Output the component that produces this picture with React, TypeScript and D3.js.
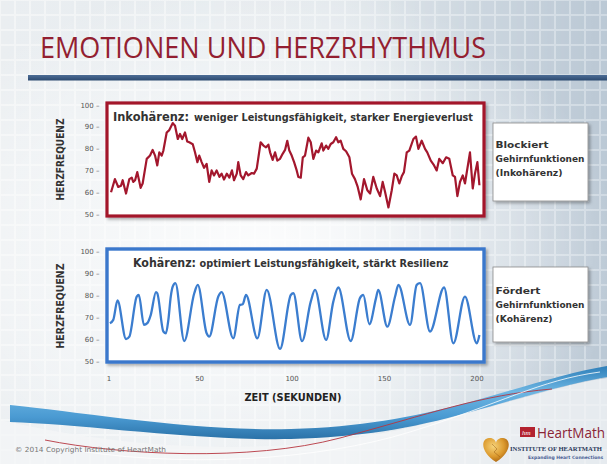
import React from 'react';
import * as d3 from 'd3';

const slideTitle = 'EMOTIONEN UND HERZRHYTHMUS';
const yAxisTitle = 'HERZFREQUENZ';
const xAxisTitle = 'ZEIT (SEKUNDEN)';
const yTicks = [50, 60, 70, 80, 90, 100];
const xTicks = [1, 50, 100, 150, 200];

// [Sekunde, Herzfrequenz]
const incoherent: [number, number][] = [
  [2.1, 60], [4.2, 66], [6.0, 62.4], [7.5, 63], [8.4, 65.5], [10.2, 59.4], [12.0, 66], [13.3, 66.7],
  [14.1, 64.7], [15.1, 65.5], [16.3, 69.2], [18.1, 62], [19.2, 64], [21.4, 75.3], [23.2, 76.8], [24.6, 79.4],
  [25.9, 76.8], [27.1, 72.3], [28.2, 78.3], [29.5, 76.8], [30.4, 79.1], [32.2, 87.4], [33.6, 88.5], [35.5, 91.7],
  [36.7, 90.5], [38.2, 84.4], [39.4, 86.7], [40.6, 84.4], [42.1, 87.4], [43.3, 83.3], [44.4, 82.9], [46.3, 82],
  [47.5, 78.3], [48.8, 73.8], [49.8, 76.8], [51.1, 73.8], [52.4, 71.2], [53.8, 73], [55.2, 64.7], [56.5, 70],
  [57.8, 67.7], [59.2, 70], [60.7, 67], [61.9, 68.5], [63.2, 65.8], [64.7, 68.5], [66.1, 66.7], [67.5, 70],
  [68.6, 65.5], [70.1, 68.5], [70.9, 73.8], [72.2, 67.7], [73.6, 66], [75.1, 69.2], [76.3, 67.7], [78.2, 68.8],
  [79.4, 68.5], [80.9, 70.8], [83.0, 82.9], [84.5, 81.4], [85.9, 80.6], [87.2, 81.8], [88.1, 78.3], [89.5, 74.8],
  [90.8, 78.3], [92.0, 74.5], [93.5, 75.3], [94.9, 77.6], [96.2, 79.4], [97.4, 83.6], [98.5, 79.1], [99.8, 76.8],
  [101.1, 73.8], [102.5, 70], [103.4, 67], [104.7, 66.7], [105.8, 76], [107.0, 76.8], [108.8, 85], [110.1, 82.9],
  [111.5, 75.3], [113.0, 79.1], [114.2, 78.3], [116.0, 82.4], [116.9, 79.1], [118.4, 81.4], [119.6, 79.9], [120.9, 82.1],
  [122.3, 82.9], [123.8, 85.2], [125.0, 82.9], [126.3, 83.6], [127.7, 79.9], [129.2, 78.8], [131.0, 76], [132.4, 68.5],
  [134.0, 66], [135.5, 62.4], [137.1, 56.7], [138.9, 66], [140.7, 60.9], [142.2, 59.4], [143.9, 67], [145.8, 61.7],
  [147.6, 58.2], [149.0, 64.7], [150.3, 60.1], [152.1, 53], [153.9, 60.9], [155.3, 68.5], [156.6, 67.7], [158.0, 64],
  [159.3, 67.3], [160.5, 69.2], [162.0, 78.3], [163.4, 79.1], [165.6, 84.4], [167.0, 85.5], [168.3, 79.9], [170.1, 83.6],
  [171.9, 79.9], [173.1, 78.3], [175.0, 74.5], [176.8, 72.3], [178.2, 70], [179.6, 75.3], [181.5, 73.3], [183.3, 76],
  [185.0, 75.3], [186.9, 67.7], [188.1, 67], [189.4, 58.2], [190.8, 64.7], [192.3, 67.7], [193.5, 64], [196.2, 78.3],
  [197.7, 61.7], [198.9, 68.5], [200.2, 73.8], [201.3, 63.2],
];

const coherent: [number, number][] = [
  [1.5, 67.2], [3.3, 68.7], [5.6, 77.5], [10.2, 60], [12.0, 61.1], [16.0, 79.3], [17.1, 80], [19.9, 66.4],
  [21.7, 67.2], [23.6, 71], [26.4, 81.3], [27.1, 80.8], [30.4, 63.4], [31.8, 62.6], [33.1, 68.7], [34.4, 79.3],
  [35.5, 83.9], [36.9, 85.4], [41.7, 59.1], [47.1, 80.8], [49.0, 84.6], [53.8, 62.6], [55.2, 61.1], [60.1, 79.3],
  [61.9, 81.3], [68.2, 60.3], [71.8, 75.5], [73.3, 75.8], [75.1, 80], [81.2, 60.3], [86.3, 82.3], [93.5, 55.5],
  [99.3, 80], [100.7, 80.8], [105.4, 59], [110.1, 77], [112.4, 82.3], [118.4, 59.6], [122.3, 77], [125.0, 83.4],
  [131.7, 59.1], [136.7, 78.6], [138.5, 80], [141.8, 66.7], [145.4, 78.6], [146.6, 82.3], [151.5, 65.6], [155.7, 79.3],
  [157.5, 84.6], [163.8, 66.4], [167.4, 84.6], [169.2, 85.4], [174.6, 63.4], [182.2, 83.4], [187.2, 58], [193.5, 79.3],
  [199.9, 58], [201.3, 61.8],
];

const topHead = 'Inkohärenz:';
const topSub = 'weniger Leistungsfähigkeit, starker Energieverlust';
const botHead = 'Kohärenz:';
const botSub = 'optimiert Leistungsfähigkeit, stärkt Resilienz';
const box1Lines = ['Blockiert', 'Gehirnfunktionen', '(Inkohärenz)'];
const box2Lines = ['Fördert', 'Gehirnfunktionen', '(Kohärenz)'];
const copyright = '© 2014 Copyright Institute of HeartMath';

const FONT = '"DejaVu Sans", sans-serif';

export default function App() {
  const x = d3.scaleLinear().domain([1, 200]).range([109, 477]);
  const yTop = d3.scaleLinear().domain([50, 100]).range([214, 105]);
  const yBot = d3.scaleLinear().domain([50, 100]).range([361, 251]);
  const lineTop = d3.line<[number, number]>().x(d => x(d[0])).y(d => yTop(d[1])).curve(d3.curveLinear);
  const lineBot = d3.line<[number, number]>().x(d => x(d[0])).y(d => yBot(d[1])).curve(d3.curveMonotoneX);

  const box1W = [53, 89, 67];
  const box2W = [45, 89, 57];

  return (
    <svg width={607} height={464} viewBox="0 0 607 464" style={{ position: 'absolute', left: 0, top: 0 }}>
      <defs>
        <linearGradient id="bg" x1="0" y1="0" x2="1" y2="0">
          <stop offset="0" stopColor="#f3f5f6" />
          <stop offset="0.55" stopColor="#eef2f4" />
          <stop offset="1" stopColor="#cfd9e2" />
        </linearGradient>
        <radialGradient id="glow" cx="0.42" cy="0.55" r="0.6">
          <stop offset="0" stopColor="#ffffff" stopOpacity="0.9" />
          <stop offset="0.7" stopColor="#ffffff" stopOpacity="0.35" />
          <stop offset="1" stopColor="#ffffff" stopOpacity="0" />
        </radialGradient>
        <pattern id="tiles" width="15" height="15" patternUnits="userSpaceOnUse">
          <rect x="1" y="1" width="13" height="13" fill="#9fb1c2" />
        </pattern>
        <linearGradient id="tileFade" x1="0" y1="0" x2="1" y2="0">
          <stop offset="0" stopColor="#fff" stopOpacity="0.1" />
          <stop offset="0.6" stopColor="#fff" stopOpacity="0.14" />
          <stop offset="1" stopColor="#fff" stopOpacity="0.42" />
        </linearGradient>
        <mask id="tileMask">
          <rect x="0" y="0" width="607" height="464" fill="url(#tileFade)" />
        </mask>
        <linearGradient id="bar" x1="0" y1="0" x2="0" y2="1">
          <stop offset="0" stopColor="#4d6d96" />
          <stop offset="1" stopColor="#2c4a70" />
        </linearGradient>
        <linearGradient id="swoosh" x1="0" y1="0" x2="0" y2="1">
          <stop offset="0" stopColor="#2f7fb9" />
          <stop offset="0.35" stopColor="#6db6e3" />
          <stop offset="0.7" stopColor="#4a9ad2" />
          <stop offset="1" stopColor="#2b72a8" />
        </linearGradient>
        <radialGradient id="heart" cx="0.4" cy="0.35" r="0.7">
          <stop offset="0" stopColor="#f6d37a" />
          <stop offset="0.6" stopColor="#dc9a2e" />
          <stop offset="1" stopColor="#a8620f" />
        </radialGradient>
        <filter id="shadow" x="-10%" y="-10%" width="130%" height="130%">
          <feDropShadow dx="2" dy="2" stdDeviation="1.8" floodColor="#000" floodOpacity="0.3" />
        </filter>
      </defs>

      {/* background */}
      <rect x={0} y={0} width={607} height={464} fill="url(#bg)" />
      <rect x={0} y={0} width={607} height={464} fill="url(#tiles)" mask="url(#tileMask)" />
      <rect x={0} y={0} width={607} height={464} fill="url(#glow)" />

      {/* title */}
      <text x={40} y={58} fontFamily='"Open Sans", sans-serif' fontSize={29} fill="#931f31"
        textLength={446} lengthAdjust="spacingAndGlyphs">{slideTitle}</text>
      <rect x={28} y={75} width={579} height={5.5} fill="url(#bar)" />

      {/* top chart */}
      <rect x={107} y={103} width={377} height={113} fill="#fff" stroke="#a3182c" strokeWidth={3.2} filter="url(#shadow)" />
      <path d={lineTop(incoherent) || ''} fill="none" stroke="#a3172d" strokeWidth={2.2} strokeLinejoin="round" />
      <text x={113} y={120.5} fontFamily={FONT} fontWeight="bold" fontSize={11.5} fill="#333"
        textLength={76} lengthAdjust="spacingAndGlyphs">{topHead}</text>
      <text x={194} y={120.5} fontFamily={FONT} fontWeight="bold" fontSize={9.6} fill="#333"
        textLength={279} lengthAdjust="spacingAndGlyphs">{topSub}</text>
      {yTicks.map(t => (
        <text key={'yt' + t} x={99.5} y={yTop(t) + 2.5} textAnchor="end" fontFamily={FONT} fontSize={7}
          fill="#555">{t + ' –'}</text>
      ))}
      <text transform={`translate(64,${yTop(75)}) rotate(-90)`} textAnchor="middle" fontFamily={FONT}
        fontWeight="bold" fontSize={10} fill="#333" textLength={82} lengthAdjust="spacingAndGlyphs">{yAxisTitle}</text>

      {/* bottom chart */}
      <rect x={107} y={249} width={377} height={113} fill="#fff" stroke="#3a78cc" strokeWidth={3.4} filter="url(#shadow)" />
      <path d={lineBot(coherent) || ''} fill="none" stroke="#3b7dcf" strokeWidth={2.3} strokeLinejoin="round" />
      <text x={133} y={267} fontFamily={FONT} fontWeight="bold" fontSize={11.5} fill="#333"
        textLength={63} lengthAdjust="spacingAndGlyphs">{botHead}</text>
      <text x={199.5} y={267} fontFamily={FONT} fontWeight="bold" fontSize={9.6} fill="#333"
        textLength={249} lengthAdjust="spacingAndGlyphs">{botSub}</text>
      {yTicks.map(t => (
        <text key={'yb' + t} x={99.5} y={yBot(t) + 2.5} textAnchor="end" fontFamily={FONT} fontSize={7}
          fill="#555">{t + ' –'}</text>
      ))}
      <text transform={`translate(64,${yBot(75)}) rotate(-90)`} textAnchor="middle" fontFamily={FONT}
        fontWeight="bold" fontSize={10} fill="#333" textLength={85} lengthAdjust="spacingAndGlyphs">{yAxisTitle}</text>

      {/* x axis */}
      {xTicks.map(t => (
        <text key={'xt' + t} x={x(t)} y={381} textAnchor="middle" fontFamily={FONT} fontSize={7} fill="#555">{t}</text>
      ))}

      {/* swoosh */}
      <path d="M0,420 C150,455 300,455 420,425 S560,385 607,378 L607,464 L0,464 Z" fill="#f4f6f7" opacity={0.75} />
      <path d="M10,405 C80,412 200,432 291,429 C360,427 410,418 470,402 C520,388 570,372 607,366 L607,377 C570,383 520,398 470,412 C410,429 360,437 291,439 C200,441 80,424 10,422 Z"
        fill="url(#swoosh)" />
      <path d="M45,440 C120,455 250,462 340,438 S480,395 552,389" fill="none" stroke="#b5353f" strokeWidth={0.9} />
      <path d="M55,447 C180,470 320,460 410,432 S540,380 600,372" fill="none" stroke="#ffffff" strokeWidth={1} opacity={0.8} />

      <text x={293} y={401} textAnchor="middle" fontFamily={FONT} fontWeight="bold" fontSize={10.5} fill="#222"
        textLength={97} lengthAdjust="spacingAndGlyphs">{xAxisTitle}</text>

      {/* side boxes */}
      <rect x={493} y={123} width={95} height={78} fill="#fff" stroke="#8a8a8a" strokeWidth={0.8} filter="url(#shadow)" />
      {box1Lines.map((s, i) => (
        <text key={'b1' + i} x={495.5} y={147.5 + i * 14} fontFamily={FONT} fontWeight="bold" fontSize={9} fill="#333"
          textLength={box1W[i]} lengthAdjust="spacingAndGlyphs">{s}</text>
      ))}
      <rect x={493} y={267} width={95} height={75} fill="#fff" stroke="#8a8a8a" strokeWidth={0.8} filter="url(#shadow)" />
      {box2Lines.map((s, i) => (
        <text key={'b2' + i} x={495.5} y={294 + i * 13.8} fontFamily={FONT} fontWeight="bold" fontSize={9} fill="#333"
          textLength={box2W[i]} lengthAdjust="spacingAndGlyphs">{s}</text>
      ))}

      {/* footer */}
      <text x={15} y={452} fontFamily={FONT} fontSize={7} fill="#777" textLength={151} lengthAdjust="spacingAndGlyphs">{copyright}</text>
      <rect x={520} y={427} width={15} height={10} fill="#b3222f" />
      <text x={522} y={435} fontFamily="serif" fontStyle="italic" fontSize={7} fill="#fff">hm</text>
      <text x={537} y={437.5} fontFamily='"Open Sans", sans-serif' fontSize={14} fill="#8a2436"
        textLength={68} lengthAdjust="spacingAndGlyphs">HeartMath</text>
      <path d="M496,462 C481,453 480,439 489,438 C493,437.5 495.5,440 496,443 C496.5,440 499,437.5 503,438 C512,439 511,453 496,462 Z"
        fill="url(#heart)" />
      <path d="M492,444 L497,449 L494,452 L500,457" fill="none" stroke="#8a4d0c" strokeWidth={0.7} opacity={0.6} />
      <text x={510} y={451} fontFamily='"Liberation Serif", serif' fontWeight="bold" fontSize={6} fill="#2b3a5c"
        textLength={92} lengthAdjust="spacingAndGlyphs">INSTITUTE OF HEARTMATH</text>
      <text x={528} y={459} fontFamily={FONT} fontWeight="bold" fontSize={4.5} fill="#4a5f95">Expanding Heart Connections</text>
    </svg>
  );
}
